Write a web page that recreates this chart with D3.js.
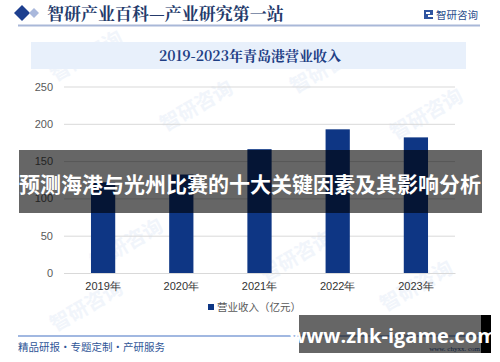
<!DOCTYPE html>
<html>
<head>
<meta charset="utf-8">
<script src="https://cdn.jsdelivr.net/npm/d3@7"></script>
<style>
  body { margin: 0; background: #fff; }
  svg { display: block; font-family: "Noto Sans CJK SC", "Noto Sans", sans-serif; }
</style>
</head>
<body>
<div class="chart"></div>
<script>
// data (2019/2020 tops are hidden by the banner, estimated)
const years = ["2019年", "2020年", "2021年", "2022年", "2023年"];
const revenue = [121.6, 132.0, 166.0, 192.6, 181.8];
const yTicks = [0, 50, 100, 150, 200, 250];

const width = 500, height = 362;
const svg = d3.select(".chart").append("svg")
    .attr("width", width).attr("height", height);

// faint watermarks
const wm = [[90, 62], [200, 112], [330, 74], [430, 120], [130, 250], [300, 262], [420, 292], [90, 312]];
svg.append("g").selectAll("text").data(wm).enter().append("text")
    .attr("transform", d => `translate(${d[0]},${d[1]}) rotate(-30)`)
    .attr("font-size", 20).attr("font-weight", 700)
    .attr("fill", "#f1f5fb")
    .attr("text-anchor", "middle")
    .text("智研咨询");

// header
svg.append("path").attr("d", "M14,13 L22,5 L30,13 L22,21 Z").attr("fill", "#1d3f8f");
svg.append("path").attr("d", "M29,13 L34,8 L39,13 L34,18 Z").attr("fill", "#a9b8dc");
svg.append("text").attr("x", 47).attr("y", 20)
    .attr("font-size", 17).attr("font-weight", 700)
    .attr("font-family", "'Noto Serif CJK SC', 'Noto Sans CJK SC', serif")
    .attr("fill", "#243a6b")
    .text("智研产业百科—产业研究第一站");
svg.append("rect").attr("x", 424).attr("y", 10).attr("width", 9).attr("height", 9).attr("fill", "#2f54a0");
svg.append("rect").attr("x", 426).attr("y", 12).attr("width", 4).attr("height", 2).attr("fill", "#fff");
svg.append("rect").attr("x", 428).attr("y", 15).attr("width", 5).attr("height", 2).attr("fill", "#fff");
svg.append("text").attr("x", 436).attr("y", 19)
    .attr("font-size", 10.5).attr("fill", "#2b4c8c")
    .text("智研咨询");
svg.append("line").attr("x1", 18).attr("x2", 480).attr("y1", 25.5).attr("y2", 25.5)
    .attr("stroke", "#a9b8d8").attr("stroke-width", 2);

// chart title band
svg.append("rect").attr("x", 31).attr("y", 42).attr("width", 435).attr("height", 27)
    .attr("fill", "#e8f0fb");
svg.append("text").attr("x", 250).attr("y", 61)
    .attr("text-anchor", "middle")
    .attr("font-size", 14).attr("font-weight", 700)
    .attr("font-family", "'Noto Serif CJK SC', 'Noto Sans CJK SC', serif")
    .attr("fill", "#1f3f85")
    .text("2019-2023年青岛港营业收入");

// scales
const x = d3.scaleBand().domain(years).range([64, 455]).paddingInner(0.69).paddingOuter(0.345);
const y = d3.scaleLinear().domain([0, 250]).range([273, 86.5]);

// grid + y axis
const yAxis = svg.append("g").attr("transform", "translate(64,0)")
    .call(d3.axisLeft(y).tickValues(yTicks).tickSize(-391).tickPadding(11));
yAxis.select(".domain").remove();
yAxis.selectAll(".tick line").attr("stroke", "#d9d9d9");
yAxis.selectAll(".tick text").attr("fill", "#595959").attr("font-size", 11)
    .attr("font-family", "'Liberation Sans', Arial, sans-serif");

// bars
svg.append("g").selectAll("rect").data(revenue).enter().append("rect")
    .attr("x", (d, i) => x(years[i]))
    .attr("y", d => y(d))
    .attr("width", x.bandwidth())
    .attr("height", d => y(0) - y(d))
    .attr("fill", "#0e3684");

// x axis
const xAxis = svg.append("g").attr("transform", "translate(0,273)")
    .call(d3.axisBottom(x).tickSize(0).tickPadding(9));
xAxis.select(".domain").attr("stroke", "#d9d9d9");
xAxis.selectAll(".tick text").attr("fill", "#333").attr("font-size", 11);

// legend
svg.append("rect").attr("x", 208).attr("y", 304).attr("width", 6).attr("height", 6).attr("fill", "#0e3684");
svg.append("text").attr("x", 217).attr("y", 311)
    .attr("font-size", 10.5).attr("fill", "#595959")
    .text("营业收入（亿元）");

// footer
svg.append("line").attr("x1", 18).attr("x2", 480).attr("y1", 336).attr("y2", 336)
    .attr("stroke", "#4472c4").attr("stroke-width", 1.2);
svg.append("text").attr("x", 18).attr("y", 351)
    .attr("font-size", 10.5).attr("fill", "#2f5597")
    .text("精品研报・专题定制・产研服务");
svg.append("text").attr("x", 480).attr("y", 351)
    .attr("text-anchor", "end")
    .attr("font-size", 7).attr("fill", "#2f5597")
    .attr("font-family", "'Liberation Serif', serif")
    .text("www. chyxx. com");

// banner overlay
svg.append("rect").attr("x", 19).attr("y", 150).attr("width", 463).attr("height", 63)
    .attr("fill", "#000").attr("fill-opacity", 0.6);
svg.append("text").attr("x", 250).attr("y", 192)
    .attr("text-anchor", "middle")
    .attr("font-size", 21).attr("font-weight", 700)
    .attr("fill", "#fff")
    .text("预测海港与光州比赛的十大关键因素及其影响分析");

// site badge bottom right
svg.append("rect").attr("x", 299).attr("y", 315).attr("width", 182).attr("height", 38)
    .attr("fill", "#000").attr("fill-opacity", 0.6);
svg.append("rect").attr("x", 481).attr("y", 315).attr("width", 10).attr("height", 38)
    .attr("fill", "#000");
svg.append("text").attr("x", 393).attr("y", 343)
    .attr("text-anchor", "middle")
    .attr("font-size", 20).attr("font-weight", 700)
    .attr("font-family", "'Open Sans', 'DejaVu Sans', sans-serif")
    .attr("fill", "#fff")
    .text("www.zhk-igame.com");
</script>
</body>
</html>
